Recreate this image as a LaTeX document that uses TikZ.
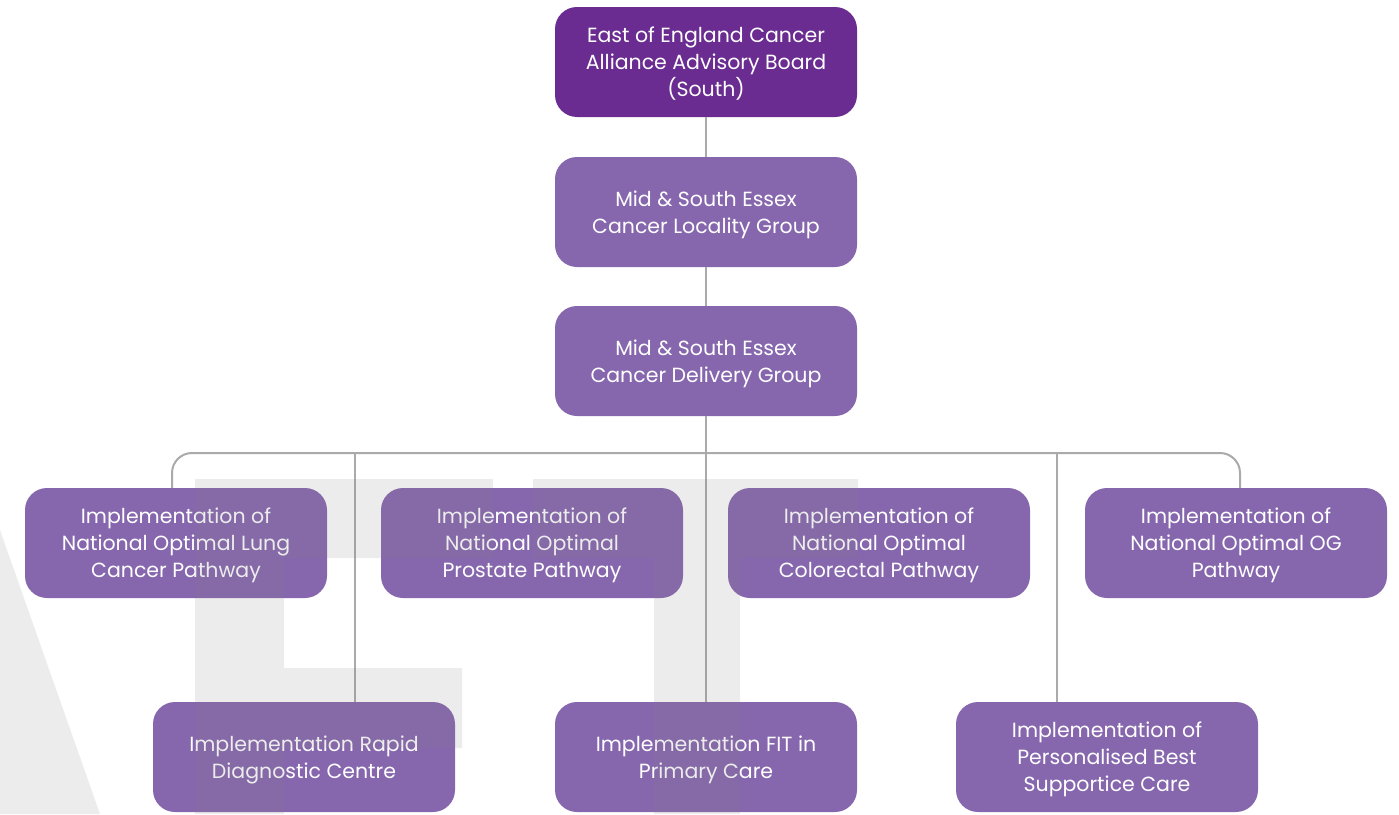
\documentclass[tikz,border=0pt]{standalone}
\usepackage{fontspec}
\setmainfont{Poppins}
\usepackage{tikz}
\usetikzlibrary{
    positioning,
    calc
}
\definecolor{mseDark}{RGB}{106,44,145}
\definecolor{mseLight}{RGB}{134,103,174}
\definecolor{mseLine}{RGB}{170,170,170}
\tikzset{
  board/.style  = {rectangle, rounded corners=22pt, minimum width=302pt,
                   minimum height=110pt, align=center, text=white,
                   inner sep=0pt, text depth=-6pt,
                   font=\fontsize{20.5}{27}\selectfont},
  topbox/.style = {board, fill=mseDark},
  box/.style    = {board, fill=mseLight},
  conn/.style   = {draw=mseLine, line width=2pt},
  wmark/.style  = {fill=black!50, opacity=0.15}
}

\begin{document}
\begin{tikzpicture}[x=1pt, y=-1pt]
    \useasboundingbox (0,0) rectangle (1399,814);

    % governance chain
    \node[topbox] (board)    at (706,62)  {East of England Cancer\\Alliance Advisory Board\\(South)};
    \node[box]    (locality) at (706,212) {Mid \& South Essex\\Cancer Locality Group};
    \node[box]    (delivery) at (706,361) {Mid \& South Essex\\Cancer Delivery Group};

    % pathways
    \node[box] (lung)     at (176,543)  {Implementation of\\National Optimal Lung\\Cancer Pathway};
    \node[box] (prostate) at (532,543)  {Implementation of\\National Optimal\\Prostate Pathway};
    \node[box] (colo)     at (879,543)  {Implementation of\\National Optimal\\Colorectal Pathway};
    \node[box] (og)       at (1236,543) {Implementation of\\National Optimal OG\\Pathway};

    \node[box] (rdc)  at (304,757)  {Implementation Rapid\\Diagnostic Centre};
    \node[box] (fit)  at (706,757)  {Implementation FIT in\\Primary Care};
    \node[box] (pbsc) at (1107,757) {Implementation of\\Personalised Best\\Supportice Care};

    % connectors
    \coordinate (bus)  at (706,453);
    \coordinate (busA) at (355,453);
    \coordinate (busB) at (1057,453);
    \draw[conn] (board) -- (locality);
    \draw[conn] (locality) -- (delivery);
    \draw[conn] (delivery) -- (bus);
    \draw[conn, rounded corners=20pt] (lung.north -| 172,0) |- (bus) -| (og.north -| 1240,0);
    \draw[conn] (busA) -- (busA |- rdc.north);
    \draw[conn] (bus) -- (fit);
    \draw[conn] (busB) -- (busB |- pbsc.north);

    % watermark
    \fill[wmark] (0,530) -- (100,814) -- (0,814) -- cycle;
    \fill[wmark] (195,479) -- (493,479) -- (493,558) -- (284,558) -- (284,668)
      -- (462,668) -- (462,748) -- (284,748) -- (284,814) -- (195,814) -- cycle;
    \fill[wmark] (533,479) -- (858,479) -- (858,558) -- (740,558) -- (740,814)
      -- (654,814) -- (654,558) -- (533,558) -- cycle;
\end{tikzpicture}
\end{document}
